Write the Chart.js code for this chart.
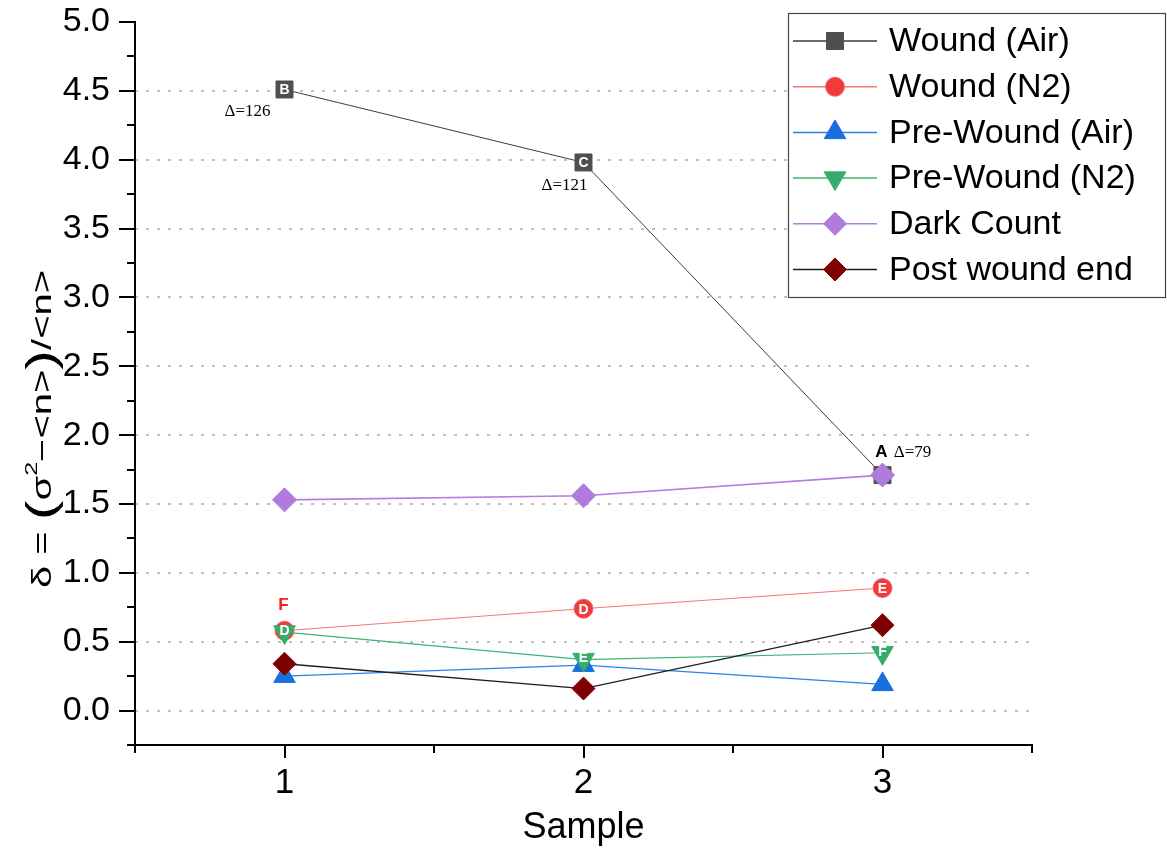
<!DOCTYPE html>
<html><head><meta charset="utf-8">
<script src="https://cdn.jsdelivr.net/npm/chart.js@4.4.1/dist/chart.umd.min.js"></script>
<style>html,body{margin:0;padding:0;background:#fff}#wrap{width:1167px;height:856px;position:relative}</style>
</head><body><div id="wrap"><canvas id="c" width="1167" height="856"></canvas></div>
<script>
const samples = [1, 2, 3];
const woundAir = [4.51, 3.98, 1.71];
const woundN2 = [0.58, 0.74, 0.89];
const preWoundAir = [0.25, 0.33, 0.19];
const preWoundN2 = [0.57, 0.37, 0.42];
const darkCount = [1.53, 1.56, 1.71];
const postWoundEnd = [0.34, 0.16, 0.62];
const seriesNames = ['Wound (Air)', 'Wound (N2)', 'Pre-Wound (Air)', 'Pre-Wound (N2)', 'Dark Count', 'Post wound end'];
const woundAirTags = ['B', 'C', 'A'];
const woundN2Tags = ['F', 'D', 'E'];
const preWoundN2Tags = ['D', 'E', 'F'];
const woundAirDeltas = ['Δ=126', 'Δ=121', 'Δ=79'];
const xTicks = [1, 2, 3];
const yTicks = [0.0, 0.5, 1.0, 1.5, 2.0, 2.5, 3.0, 3.5, 4.0, 4.5, 5.0];
const xLabel = 'Sample';

const SANS = '"Liberation Sans", Arial, Helvetica, sans-serif';
const SERIF = '"Liberation Serif", "Times New Roman", serif';

const pts = arr => samples.map((x, i) => ({x: x, y: arr[i]}));

function ds(label, arr, o) {
  return Object.assign({
    label: label, data: pts(arr), showLine: true, fill: false, tension: 0,
    pointBorderWidth: 1
  }, o);
}

const datasets = [
  ds(seriesNames[0], woundAir, {borderColor: '#3c3c3c', borderWidth: 1, pointStyle: 'rect', pointRadius: 12,
    pointBackgroundColor: '#4f4f4f', pointBorderColor: '#4f4f4f', order: 6, tags: woundAirTags, tagColor: '#ffffff',
    deltas: woundAirDeltas}),
  ds(seriesNames[1], woundN2, {borderColor: '#f27878', borderWidth: 1, pointStyle: 'circle', pointRadius: 9.5,
    pointBackgroundColor: '#ef3b3b', pointBorderColor: '#f46a6a', order: 5, tags: woundN2Tags, tagColor: '#ffffff'}),
  ds(seriesNames[2], preWoundAir, {borderColor: '#2f7fe6', borderWidth: 1.3, pointStyle: 'triangle', pointRadius: 12.5,
    pointBackgroundColor: '#1a6fdf', pointBorderColor: '#1a6fdf', order: 4}),
  ds(seriesNames[3], preWoundN2, {borderColor: '#3cb371', borderWidth: 1.2, pointStyle: 'triangle', pointRotation: 180, pointRadius: 12.5,
    pointBackgroundColor: '#37ad6b', pointBorderColor: '#37ad6b', order: 3, tags: preWoundN2Tags, tagColor: '#ffffff'}),
  ds(seriesNames[4], darkCount, {borderColor: '#b07fdf', borderWidth: 1.6, pointStyle: 'rectRot', pointRadius: 12,
    pointBackgroundColor: '#b07bdd', pointBorderColor: '#b07bdd', order: 2}),
  ds(seriesNames[5], postWoundEnd, {borderColor: '#1e1e1e', borderWidth: 1.3, pointStyle: 'rectRot', pointRadius: 11.5,
    pointBackgroundColor: '#7f0000', pointBorderColor: '#7f0000', order: 1})
];

function drawMarker(ctx, style, x, y, r, rot, fill, stroke) {
  ctx.save();
  ctx.fillStyle = fill; ctx.strokeStyle = stroke; ctx.lineWidth = 1;
  ctx.beginPath();
  if (style === 'rect') {
    const s = Math.SQRT1_2 * r; ctx.rect(x - s, y - s, 2 * s, 2 * s);
  } else if (style === 'circle') {
    ctx.arc(x, y, r, 0, Math.PI * 2);
  } else if (style === 'triangle') {
    let a = (rot || 0) * Math.PI / 180;
    ctx.moveTo(x + Math.sin(a) * r, y - Math.cos(a) * r);
    a += 2 * Math.PI / 3; ctx.lineTo(x + Math.sin(a) * r, y - Math.cos(a) * r);
    a += 2 * Math.PI / 3; ctx.lineTo(x + Math.sin(a) * r, y - Math.cos(a) * r);
    ctx.closePath();
  } else if (style === 'rectRot') {
    ctx.moveTo(x - r, y); ctx.lineTo(x, y - r); ctx.lineTo(x + r, y); ctx.lineTo(x, y + r); ctx.closePath();
  }
  ctx.fill(); ctx.stroke();
  ctx.restore();
}

const decorPlugin = {
  id: 'decor',
  afterDatasetDraw(chart, args, opts) {
    const d = chart.data.datasets[args.index];
    if (!d.tags) return;
    const ctx = chart.ctx;
    const hidden = (opts.tagsOutside[args.index] || []);
    ctx.save();
    ctx.font = 'bold 14px ' + SANS;
    ctx.fillStyle = d.tagColor; ctx.textAlign = 'center'; ctx.textBaseline = 'middle';
    args.meta.data.forEach((el, j) => {
      if (hidden.indexOf(j) >= 0 || !d.tags[j]) return;
      const dy = (d.pointStyle === 'triangle' && d.pointRotation === 180) ? -1 : 1;
      ctx.fillText(d.tags[j], el.x, el.y + dy);
    });
    ctx.restore();
  },
  afterDatasetsDraw(chart, args, opts) {
    const ctx = chart.ctx;
    ctx.save();
    Object.keys(opts.tagsOutside).forEach(k => {
      const i = +k, d = chart.data.datasets[i], meta = chart.getDatasetMeta(i);
      opts.tagsOutside[k].forEach(j => {
        const el = meta.data[j];
        ctx.font = 'bold 17px ' + SANS; ctx.textAlign = 'center'; ctx.textBaseline = 'middle';
        ctx.fillStyle = opts.outsideColors[i];
        ctx.fillText(d.tags[j], el.x - 1, el.y - opts.outsideOffset[i]);
      });
    });
    const d0 = chart.data.datasets[0], m0 = chart.getDatasetMeta(0);
    ctx.font = '17px ' + SERIF; ctx.fillStyle = '#000'; ctx.textAlign = 'center'; ctx.textBaseline = 'middle';
    m0.data.forEach((el, j) => {
      const off = opts.deltaOffsets[j];
      ctx.fillText(d0.deltas[j], el.x + off[0], el.y + off[1]);
    });
    ctx.restore();
  },
  afterDraw(chart, args, opts) {
    const ctx = chart.ctx, xs = chart.scales.x, ys = chart.scales.y, ca = chart.chartArea;
    ctx.save();
    ctx.strokeStyle = '#000'; ctx.lineWidth = 2; ctx.lineCap = 'butt';
    ctx.beginPath();
    ctx.moveTo(ca.left, ca.top - 1); ctx.lineTo(ca.left, ca.bottom + 1);
    ctx.moveTo(ca.left - 1, ca.bottom); ctx.lineTo(ca.right + 1, ca.bottom);
    ctx.stroke();
    ctx.beginPath();
    for (let v = ys.min; v <= ys.max + 1e-9; v += 0.25) {
      const p = Math.round(ys.getPixelForValue(v));
      const major = Math.abs(v * 2 - Math.round(v * 2)) < 1e-6;
      ctx.moveTo(ca.left, p); ctx.lineTo(ca.left - (major ? 16 : 8), p);
    }
    for (let v = xs.min; v <= xs.max + 1e-9; v += 0.5) {
      const p = Math.round(xs.getPixelForValue(v));
      const major = Math.abs(v - Math.round(v)) < 1e-6;
      ctx.moveTo(p, ca.bottom); ctx.lineTo(p, ca.bottom + (major ? 13 : 8));
    }
    ctx.stroke();

    const parts = [
      {t: 'δ = ', f: 27, dy: 0},
      {t: '(', f: 40, dy: 4},
      {t: 'σ', f: 27, dy: 0},
      {t: '2', f: 17, dy: -14},
      {t: '−<n>', f: 27, dy: 0},
      {t: ')', f: 40, dy: 4},
      {t: '/<n>', f: 27, dy: 0}
    ];
    let total = 0;
    parts.forEach(p => { ctx.font = p.f + 'px ' + SANS; p.w = ctx.measureText(p.t).width; total += p.w; });
    const s = opts.titleLength / total;
    ctx.translate(opts.titleX, opts.titleY);
    ctx.rotate(-Math.PI / 2);
    ctx.scale(s, 1);
    ctx.fillStyle = '#000'; ctx.textAlign = 'left'; ctx.textBaseline = 'alphabetic';
    let cx = -total / 2;
    parts.forEach(p => { ctx.font = p.f + 'px ' + SANS; ctx.fillText(p.t, cx, p.dy); cx += p.w; });
    ctx.restore();

    const L = opts.legend;
    ctx.save();
    ctx.fillStyle = '#fff'; ctx.fillRect(L.x, L.y, L.w, L.h);
    ctx.strokeStyle = '#444'; ctx.lineWidth = 1.2; ctx.strokeRect(L.x + 0.5, L.y + 0.5, L.w, L.h);
    chart.data.datasets.forEach((d, i) => {
      const y = L.rowY + i * L.rowStep;
      ctx.strokeStyle = d.borderColor; ctx.lineWidth = 1.5;
      ctx.beginPath(); ctx.moveTo(L.lineX0, y); ctx.lineTo(L.lineX1, y); ctx.stroke();
      const r = d.pointStyle === 'circle' ? 9.5 : d.pointStyle === 'rect' ? 12 : d.pointStyle === 'triangle' ? 12.5 : 11.5;
      drawMarker(ctx, d.pointStyle, (L.lineX0 + L.lineX1) / 2, y, r, d.pointRotation, d.pointBackgroundColor, d.pointBorderColor);
      ctx.fillStyle = '#000'; ctx.font = L.font + 'px ' + SANS; ctx.textAlign = 'left'; ctx.textBaseline = 'middle';
      ctx.fillText(d.label, L.textX, y + 1);
    });
    ctx.restore();
  }
};

new Chart(document.getElementById('c'), {
  type: 'line',
  data: {datasets: datasets},
  plugins: [decorPlugin],
  options: {
    responsive: false, animation: false, events: [],
    layout: {autoPadding: false, padding: {top: 22, right: 135, left: 0, bottom: 0}},
    plugins: {
      legend: {display: false}, tooltip: {enabled: false},
      decor: {
        tagsOutside: {0: [2], 1: [0]},
        outsideColors: {0: '#000000', 1: '#f01e1e'},
        outsideOffset: {0: 23, 1: 25},
        deltaOffsets: [[-37, 22], [-19, 23], [30, -23]],
        titleX: 51, titleY: 429, titleLength: 318,
        legend: {x: 788, y: 13, w: 377, h: 284, rowY: 41, rowStep: 45.7, lineX0: 793, lineX1: 877, textX: 889, font: 34}
      }
    },
    scales: {
      x: {
        type: 'linear', min: 0.5, max: 3.5,
        afterBuildTicks: s => { s.ticks = xTicks.map(v => ({value: v})); },
        afterFit: s => { s.height = 111; s.paddingLeft = 0; s.paddingRight = 0; },
        grid: {display: false, drawTicks: false},
        border: {display: false},
        ticks: {font: {family: SANS, size: 35}, color: '#000', padding: 17, callback: v => String(v)},
        title: {display: true, text: xLabel, font: {family: SANS, size: 36}, color: '#000', padding: {top: 0, bottom: 6}}
      },
      y: {
        type: 'linear', min: -0.25, max: 5.0,
        afterBuildTicks: s => { s.ticks = yTicks.map(v => ({value: v})); },
        afterFit: s => { s.width = 135; s.paddingTop = 0; s.paddingBottom = 0; },
        grid: {display: true, drawTicks: false, lineWidth: 2,
          color: c => (c.tick && c.tick.value >= 4.99) ? 'rgba(0,0,0,0)' : '#c2c2c2'},
        border: {display: false, dash: [3, 8]},
        ticks: {font: {family: SANS, size: 34}, color: '#000', padding: 25, callback: v => v.toFixed(1)}
      }
    }
  }
});
</script></body></html>
